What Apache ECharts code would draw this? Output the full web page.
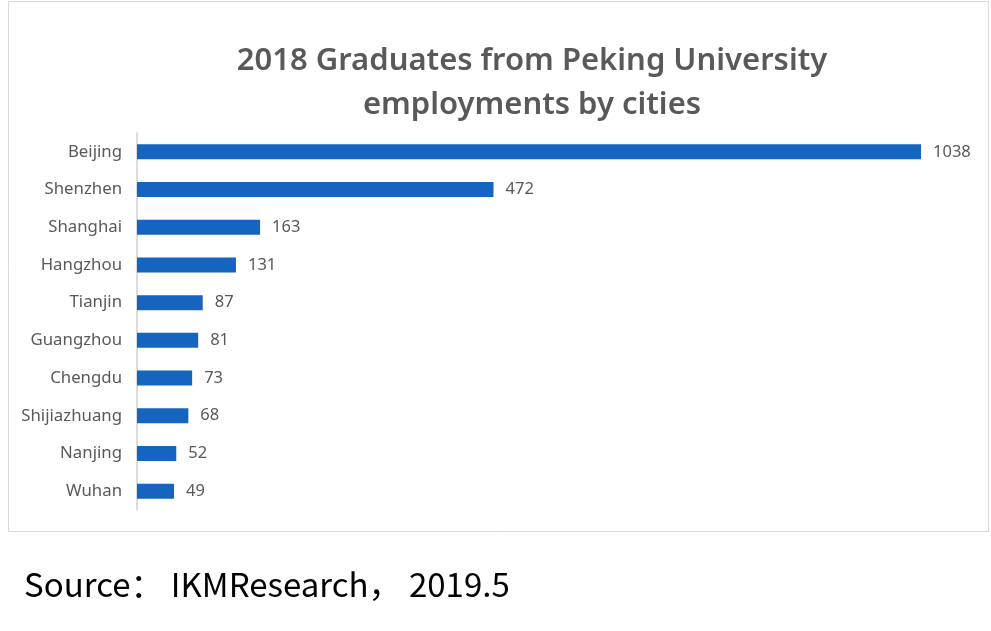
<!DOCTYPE html>
<html><head><meta charset="utf-8">
<script src="https://cdn.jsdelivr.net/npm/echarts@6/dist/echarts.min.js"></script>
<style>html,body{margin:0;padding:0;background:#fff}#c{width:991px;height:631px}</style>
</head><body><div id="c"></div>
<script>
const cities = ['Beijing','Shenzhen','Shanghai','Hangzhou','Tianjin','Guangzhou','Chengdu','Shijiazhuang','Nanjing','Wuhan'];
const graduates = [1038,472,163,131,87,81,73,68,52,49];
const titleText = '2018 Graduates from Peking University\nemployments by cities';
const sourceText = 'Source： IKMResearch， 2019.5';

const chart = echarts.init(document.getElementById('c'));
chart.setOption({
  backgroundColor:'#fff',
  animation:false,
  title:{text:titleText,left:527,textAlign:'center',top:34,
    textStyle:{fontFamily:'Noto Sans',fontSize:31,fontWeight:600,color:'#595959',lineHeight:44}},
  graphic:[
    {type:'rect',shape:{x:8.5,y:1.5,width:980,height:530},style:{fill:'none',stroke:'#d9d9d9',lineWidth:1}},
    {type:'text',left:24,top:568,style:{text:sourceText,fontFamily:'Noto Sans CJK SC',fontSize:33,fill:'#000'}}
  ],
  grid:{left:137,right:70,top:133,bottom:121,containLabel:false},
  xAxis:{type:'value',min:0,max:1038,show:false},
  yAxis:{type:'category',data:cities,inverse:true,
    axisLine:{lineStyle:{color:'#d0d0d0',width:1.5}},axisTick:{show:false},
    axisLabel:{fontFamily:'Noto Sans',fontSize:16.8,color:'#595959',margin:15}},
  series:[{type:'bar',data:graduates,barWidth:15,itemStyle:{color:'#1565C0'},
    label:{show:true,position:'right',distance:12,fontFamily:'Noto Sans',fontSize:16.5,color:'#595959'}}]
});
</script></body></html>
